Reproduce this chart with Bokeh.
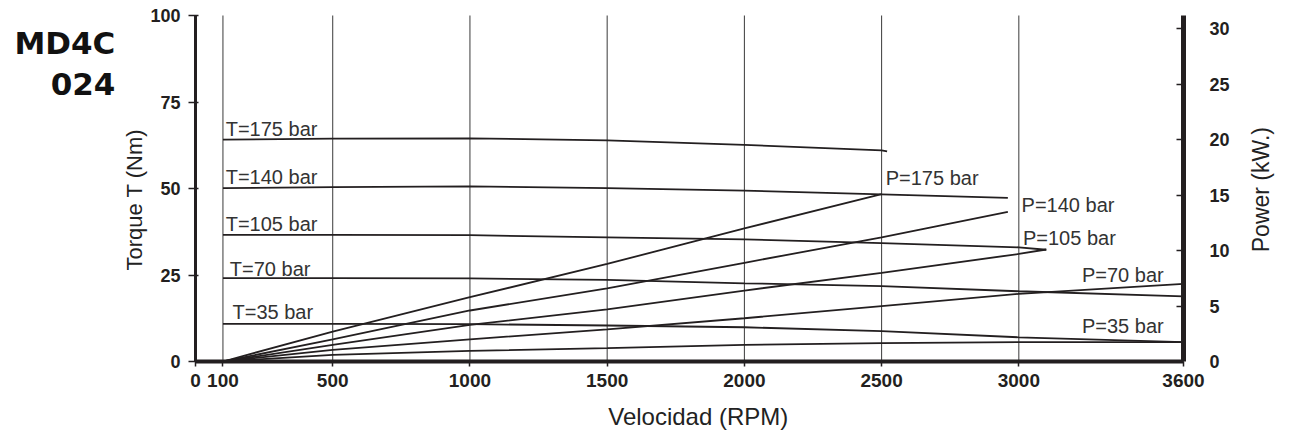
import math
from bokeh.plotting import figure
from bokeh.models import Range1d, LinearAxis, FixedTicker
from bokeh.core.properties import value
from bokeh.embed import file_html
from bokeh.resources import INLINE

# ---------------- data ----------------
# Torque curves (Nm) vs speed (RPM)
rpm_t175 = [100, 500, 1000, 1500, 2000, 2500, 2520]
t175 = [64.1, 64.4, 64.5, 63.9, 62.6, 61.0, 60.7]
rpm_t140 = [100, 500, 1000, 1500, 2000, 2500, 2960]
t140 = [50.1, 50.4, 50.6, 50.1, 49.4, 48.3, 47.3]
rpm_t105 = [100, 500, 1000, 1500, 2000, 2500, 3000, 3100]
t105 = [36.6, 36.6, 36.5, 35.9, 35.3, 34.2, 33.0, 32.3]
rpm_t70 = [100, 500, 1000, 1500, 2000, 2500, 3000, 3600]
t70 = [24.1, 24.1, 24.0, 23.6, 22.6, 21.8, 20.3, 18.8]
rpm_t35 = [100, 500, 1000, 1500, 2000, 2500, 3000, 3600]
t35 = [10.9, 10.9, 10.8, 10.4, 9.9, 8.8, 7.0, 5.6]

# Power curves (kW) vs speed (RPM)
rpm_p175 = [100, 500, 1000, 1500, 2000, 2500]
p175 = [0.0, 2.7, 5.8, 8.8, 12.0, 15.1]
rpm_p140 = [100, 500, 1000, 1500, 2000, 2500, 2960]
p140 = [0.0, 2.0, 4.6, 6.6, 8.9, 11.2, 13.5]
rpm_p105 = [100, 500, 1000, 1500, 2000, 2500, 3000, 3100]
p105 = [0.0, 1.5, 3.3, 4.7, 6.4, 8.0, 9.7, 10.1]
rpm_p70 = [100, 500, 1000, 1500, 2000, 2500, 3000, 3600]
p70 = [0.0, 1.05, 2.0, 2.9, 3.9, 5.0, 6.1, 7.0]
rpm_p35 = [100, 500, 1000, 1500, 2000, 2500, 3000, 3600]
p35 = [0.0, 0.6, 0.95, 1.2, 1.5, 1.65, 1.74, 1.74]

# Axis extents and ticks
rpm_max = 3600
torque_max = 100
power_max = 31.2
x_ticks = [0, 100, 500, 1000, 1500, 2000, 2500, 3000, 3600]
x_grid = [100, 500, 1000, 1500, 2000, 2500, 3000]
torque_ticks = [0, 25, 50, 75, 100]
power_ticks = [0, 5, 10, 15, 20, 25, 30]

# Curve labels (anchored in data coordinates: RPM, Nm)
t_labels = ["T=175 bar", "T=140 bar", "T=105 bar", "T=70 bar", "T=35 bar"]
t_label_x = [110, 110, 110, 125, 135]
t_label_y = [67.3, 53.2, 39.7, 26.7, 14.2]
p_labels = ["P=175 bar", "P=140 bar", "P=105 bar", "P=70 bar", "P=35 bar"]
p_label_x = [2515, 3010, 3015, 3230, 3230]
p_label_y = [52.9, 45.2, 35.8, 24.9, 10.2]

# ---------------- figure ----------------
INK = "#231f20"
FONT = "Liberation Sans"
W, H = 1290, 438
# frame placement (pixels) of the plotting area inside the canvas
LEFT_PX, RIGHT_PX, TOP_PX, BOTTOM_PX = 195, 1183, 15, 361
sx = (RIGHT_PX - LEFT_PX) / rpm_max
sy = (BOTTOM_PX - TOP_PX) / torque_max
x0 = -LEFT_PX / sx
x1 = rpm_max + (W - RIGHT_PX) / sx
y0 = -(H - BOTTOM_PX) / sy
y1 = torque_max + TOP_PX / sy
k = power_max / torque_max

p = figure(width=W, height=H, output_backend="svg", toolbar_location=None,
           x_range=Range1d(x0, x1), y_range=Range1d(y0, y1),
           x_axis_location=None, y_axis_location=None,
           min_border=0, min_border_left=0, min_border_right=0,
           min_border_top=0, min_border_bottom=0,
           outline_line_color=None,
           background_fill_color="white", border_fill_color="white")
p.extra_y_ranges = {"power": Range1d(y0 * k, y1 * k)}
p.grid.visible = False

# vertical grid lines
p.segment(x0=x_grid, y0=[0] * len(x_grid), x1=x_grid, y1=[torque_max] * len(x_grid),
          line_color="#3a3a3a", line_width=1, level="underlay")


def style_axis(ax, line_w, tick_out, tick_in, size, standoff):
    ax.axis_line_width = line_w
    ax.axis_line_color = INK
    ax.major_tick_out = tick_out
    ax.major_tick_in = tick_in
    ax.major_tick_line_color = INK
    ax.major_tick_line_width = 1.5
    ax.minor_tick_line_color = None
    ax.major_label_text_font = FONT
    ax.major_label_text_font_style = "bold"
    ax.major_label_text_font_size = size
    ax.major_label_text_color = INK
    ax.major_label_standoff = standoff


xa = LinearAxis(ticker=FixedTicker(ticks=x_ticks), fixed_location=0,
                bounds=(0, rpm_max))
style_axis(xa, 4, 5, 0, "19px", 7)
p.add_layout(xa, "below")

ya = LinearAxis(ticker=FixedTicker(ticks=torque_ticks), fixed_location=0,
                bounds=(0, torque_max))
style_axis(ya, 3, 7, 3, "18px", 8)
p.add_layout(ya, "left")

ra = LinearAxis(y_range_name="power", ticker=FixedTicker(ticks=power_ticks),
                fixed_location=rpm_max, bounds=(0, power_max))
style_axis(ra, 5, 0, 7, "18px", 26)
p.add_layout(ra, "right")

# torque curves
for xs, ys in [(rpm_t175, t175), (rpm_t140, t140), (rpm_t105, t105),
               (rpm_t70, t70), (rpm_t35, t35)]:
    p.line(xs, ys, line_color=INK, line_width=1.8)

# power curves
for xs, ys in [(rpm_p175, p175), (rpm_p140, p140), (rpm_p105, p105),
               (rpm_p70, p70), (rpm_p35, p35)]:
    p.line(xs, ys, line_color=INK, line_width=1.8, y_range_name="power")

# curve labels
p.text(x=t_label_x, y=t_label_y, text=t_labels, text_font=value(FONT),
       text_font_size="20px", text_color="#333333",
       text_align="left", text_baseline="middle")
p.text(x=p_label_x, y=p_label_y, text=p_labels, text_font=value(FONT),
       text_font_size="20px", text_color="#333333",
       text_align="left", text_baseline="middle")

# axis titles
p.text(x=[-222], y=[46.8], text=["Torque T (Nm)"], angle=math.pi / 2,
       text_font=value(FONT), text_font_size="22px", text_color="#222222",
       text_align="center", text_baseline="middle")
p.text(x=[3881], y=[50.6], text=["Power  (kW.)"], angle=math.pi / 2,
       text_font=value(FONT), text_font_size="23px", text_color="#222222",
       text_align="center", text_baseline="middle")
p.text(x=[1844], y=[-16.0], text=["Velocidad  (RPM)"],
       text_font=value(FONT), text_font_size="24px", text_color="#222222",
       text_align="center", text_baseline="middle")

# model title
p.text(x=[-292, -292], y=[92.0, 80.3], text=["MD4C", "024"],
       text_font=value("DejaVu Sans"), text_font_style="bold",
       text_font_size="31px", text_color="#111111",
       text_align="right", text_baseline="middle")

open("out.html", "w").write(file_html(p, INLINE))
